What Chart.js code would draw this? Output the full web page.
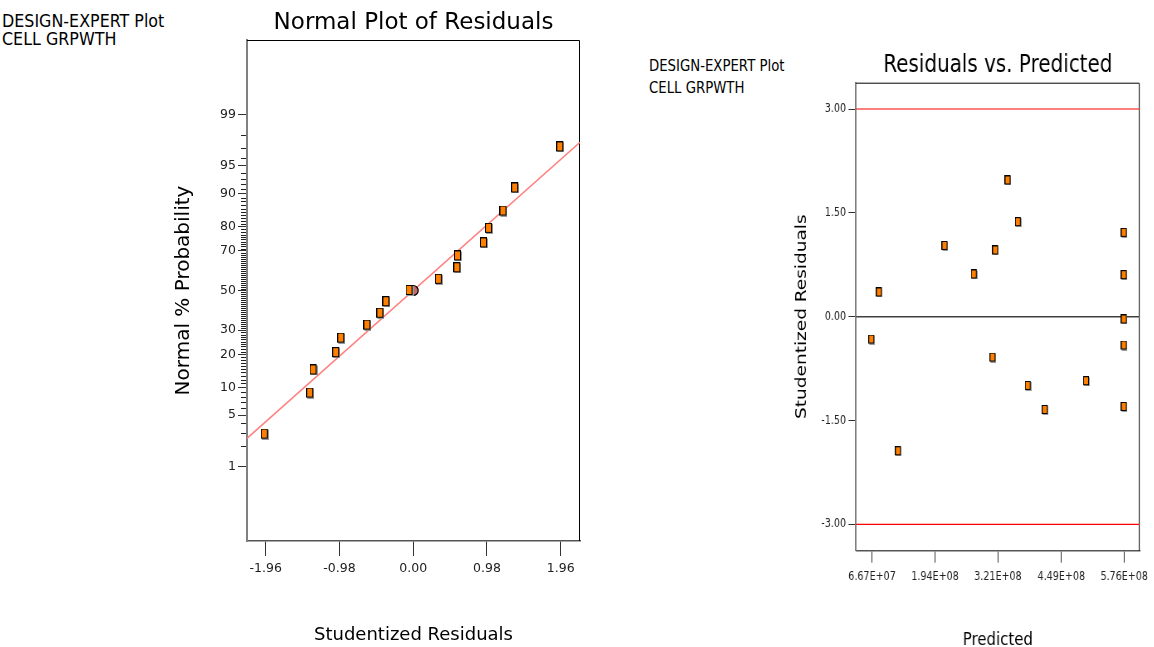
<!DOCTYPE html>
<html>
<head>
<meta charset="utf-8">
<script src="https://cdn.jsdelivr.net/npm/chart.js@4.4.1/dist/chart.umd.min.js"></script>
<style>
  body { margin: 0; width: 1154px; height: 647px; overflow: hidden; background: #fff; }
  canvas { position: absolute; top: 0; }
  #left { left: 0; }
  #right { left: 620px; transform: scaleX(0.83); transform-origin: 0 0; }
  .hdr { position: absolute; font-family: 'DejaVu Sans'; color: #000; white-space: nowrap; transform-origin: 0 0; }
  #hdrLeft { left: 1.5px; top: 11.6px; font-size: 17.4px; line-height: 18.7px; transform: scaleX(0.915); }
  #hdrRight { left: 649px; top: 55.3px; font-size: 16px; line-height: 21.7px; transform: scaleX(0.83); }
</style>
</head>
<body>
<div class="hdr" id="hdrLeft">DESIGN-EXPERT Plot<br>CELL GRPWTH</div>
<div class="hdr" id="hdrRight">DESIGN-EXPERT Plot<br>CELL GRPWTH</div>
<canvas id="left" width="610" height="660"></canvas>
<canvas id="right" width="644" height="660"></canvas>
<script>
// normal plot data (studentized residuals and their normal % probability)
const residX = [-1.973, -1.369, -1.325, -1.023, -0.956, -0.609, -0.436, -0.356, -0.049, 0.341, 0.587, 0.595, 0.941, 1.008, 1.20, 1.355, 1.955];
const normPct = [2.9, 8.8, 14.7, 20.6, 26.5, 32.4, 38.2, 44.1, 50.0, 55.9, 61.8, 67.6, 73.5, 79.4, 85.3, 91.2, 97.1];
// reference line and its centre marker
const fitX = [-2.209, 2.217];
const fitPct = [2.55, 97.48];
const centreX = [0];
const centrePct = [50];
// left axes
const xTicks = [-1.96, -0.98, 0, 0.98, 1.96];
const xTickLabels = ['-1.96', '-0.98', '0.00', '0.98', '1.96'];
const yTickPct = [1, 5, 10, 20, 30, 50, 70, 80, 90, 95, 99];
const yTickLabels = ['1', '5', '10', '20', '30', '50', '70', '80', '90', '95', '99'];

// residuals vs predicted data
const predicted = [6.60e7, 8.14e7, 1.198e8, 2.139e8, 2.730e8, 3.108e8, 3.162e8, 3.413e8, 3.620e8, 3.819e8, 4.163e8, 4.998e8, 5.76e8, 5.76e8, 5.76e8, 5.76e8, 5.76e8];
const studResid = [-0.33, 0.35, -1.944, 1.023, 0.61, -0.59, 0.957, 1.968, 1.366, -1.0, -1.347, -0.932, 1.211, 0.6, -0.04, -0.416, -1.303];
const limits = [3, -3];
const zeroLine = [0];
const rxRange = [3.427e7, 6.073e8];
const rxTicks = [6.67e7, 1.94e8, 3.21e8, 4.49e8, 5.76e8];
const rxTickLabels = ['6.67E+07', '1.94E+08', '3.21E+08', '4.49E+08', '5.76E+08'];
const ryTicks = [-3, -1.5, 0, 1.5, 3];
const ryTickLabels = ['-3.00', '-1.50', '0.00', '1.50', '3.00'];

Chart.defaults.font.family = 'DejaVu Sans';

// inverse normal cdf (Acklam) used to place the probability axis
function probit(p) {
  const a = [-3.969683028665376e+01, 2.209460984245205e+02, -2.759285104469687e+02, 1.383577518672690e+02, -3.066479806614716e+01, 2.506628277459239e+00];
  const b = [-5.447609879822406e+01, 1.615858368580409e+02, -1.556989798598866e+02, 6.680131188771972e+01, -1.328068155288572e+01];
  const c = [-7.784894002430293e-03, -3.223964580411365e-01, -2.400758277161838e+00, -2.549732539343734e+00, 4.374664141464968e+00, 2.938163982698783e+00];
  const d = [7.784695709041462e-03, 3.224671290700398e-01, 2.445134137142996e+00, 3.754408661907416e+00];
  const pl = 0.02425;
  let q, r;
  if (p < pl) {
    q = Math.sqrt(-2 * Math.log(p));
    return (((((c[0]*q+c[1])*q+c[2])*q+c[3])*q+c[4])*q+c[5]) / ((((d[0]*q+d[1])*q+d[2])*q+d[3])*q+1);
  }
  if (p > 1 - pl) {
    q = Math.sqrt(-2 * Math.log(1 - p));
    return -(((((c[0]*q+c[1])*q+c[2])*q+c[3])*q+c[4])*q+c[5]) / ((((d[0]*q+d[1])*q+d[2])*q+d[3])*q+1);
  }
  q = p - 0.5; r = q * q;
  return (((((a[0]*r+a[1])*r+a[2])*r+a[3])*r+a[4])*r+a[5])*q / (((((b[0]*r+b[1])*r+b[2])*r+b[3])*r+b[4])*r+1);
}

// small orange box marker
function makeMarker(w, h) {
  const c = document.createElement('canvas');
  c.width = w + 1; c.height = h + 1;
  const g = c.getContext('2d');
  g.fillStyle = '#9a9a9a';
  g.fillRect(1, 1, w, h);
  g.fillStyle = '#000';
  g.fillRect(0, 0, w, h);
  g.fillStyle = '#ff8000';
  g.fillRect(1, 1, w - 2, h - 2);
  return c;
}

// minor percent ticks on the probability axis
const minorPct = [];
for (let i = 1; i < 100; i++) if (!yTickPct.includes(i)) minorPct.push(i);

const minorTicks = {
  id: 'minorTicks',
  afterDraw(chart) {
    const ctx = chart.ctx, y = chart.scales.y, left = chart.chartArea.left;
    ctx.save();
    ctx.strokeStyle = '#222';
    ctx.lineWidth = 1;
    minorPct.forEach(p => {
      const py = Math.round(y.getPixelForValue(probit(p / 100))) + 0.5;
      ctx.beginPath();
      ctx.moveTo(left - 6, py);
      ctx.lineTo(left - 1, py);
      ctx.stroke();
    });
    ctx.restore();
  }
};

// top and right edges of the plot box
const frame = {
  id: 'frame',
  beforeDatasetsDraw(chart) {
    const { ctx, chartArea: a } = chart;
    ctx.save();
    ctx.strokeStyle = '#000';
    ctx.lineWidth = 1;
    ctx.beginPath();
    ctx.moveTo(a.left, a.top + 0.5);
    ctx.lineTo(a.right - 0.5, a.top + 0.5);
    ctx.lineTo(a.right - 0.5, a.bottom);
    ctx.stroke();
    ctx.restore();
  }
};

const leftChart = new Chart(document.getElementById('left').getContext('2d'), {
  type: 'scatter',
  data: {
    datasets: [{
      data: residX.map((v, i) => ({ x: v, y: probit(normPct[i] / 100) })),
      pointStyle: makeMarker(7, 10)
    }, {
      data: centreX.map((v, i) => ({ x: v, y: probit(centrePct[i] / 100) })),
      pointStyle: 'circle',
      pointRadius: 5,
      backgroundColor: '#c46a6a',
      borderColor: '#000',
      borderWidth: 1.2
    }, {
      data: fitX.map((v, i) => ({ x: v, y: probit(fitPct[i] / 100) })),
      showLine: true,
      pointRadius: 0,
      borderColor: '#ff8080',
      borderWidth: 1.5
    }]
  },
  options: {
    responsive: false,
    animation: false,
    layout: { padding: { left: 0, right: 30, top: 0, bottom: 0 } },
    plugins: {
      legend: { display: false },
      tooltip: { enabled: false },
      title: {
        display: true,
        text: 'Normal Plot of Residuals',
        fullSize: false,
        color: '#000',
        font: { size: 23, weight: 'normal' },
        padding: { top: 9.5, bottom: 2.9 }
      }
    },
    scales: {
      x: {
        type: 'linear',
        min: -2.209,
        max: 2.217,
        afterBuildTicks: s => { s.ticks = xTicks.map(v => ({ value: v })); },
        afterFit: s => { s.height = 119; },
        ticks: { autoSkip: false, maxRotation: 0, padding: 5, color: '#222', font: { size: 12.5 }, callback: (v, i) => xTickLabels[i] },
        grid: { drawOnChartArea: false, tickLength: 15, tickColor: '#333' },
        border: { color: '#555', width: 1.5 },
        title: { display: true, text: 'Studentized Residuals', color: '#000', font: { size: 18 }, padding: { top: 0, bottom: 14 } }
      },
      y: {
        type: 'linear',
        min: -3.307,
        max: 3.307,
        afterBuildTicks: s => { s.ticks = yTickPct.map(p => ({ value: probit(p / 100) })); },
        afterFit: s => { s.width = 247; },
        ticks: { autoSkip: false, padding: 2, color: '#222', font: { size: 12.5 }, callback: (v, i) => yTickLabels[i] },
        grid: { drawOnChartArea: false, tickLength: 9, tickColor: '#333' },
        border: { color: '#808080', width: 2 },
        title: { display: true, text: 'Normal % Probability', color: '#000', font: { size: 20 }, padding: { top: 172, bottom: 0 } }
      }
    }
  },
  plugins: [minorTicks, frame]
});

// horizontal reference lines across the predicted range
const hLine = (v, color, width) => ({
  data: rxRange.map(x => ({ x: x, y: v })),
  showLine: true,
  pointRadius: 0,
  borderColor: color,
  borderWidth: width
});

const rightChart = new Chart(document.getElementById('right').getContext('2d'), {
  type: 'scatter',
  data: {
    datasets: [{
      data: predicted.map((v, i) => ({ x: v, y: studResid[i] })),
      pointStyle: makeMarker(7, 9)
    }]
      .concat(zeroLine.map(v => hLine(v, '#404040', 1.5)))
      .concat(limits.map(v => hLine(v, '#ff0000', 1.2)))
  },
  options: {
    responsive: false,
    animation: false,
    layout: { padding: { left: 0, right: 12.7, top: 0, bottom: 0 } },
    plugins: {
      legend: { display: false },
      tooltip: { enabled: false },
      title: {
        display: true,
        text: 'Residuals vs. Predicted',
        fullSize: false,
        color: '#000',
        font: { size: 24, weight: 'normal' },
        padding: { top: 51.4, bottom: 2.5 }
      }
    },
    scales: {
      x: {
        type: 'linear',
        min: rxRange[0],
        max: rxRange[1],
        afterBuildTicks: s => { s.ticks = rxTicks.map(v => ({ value: v })); },
        afterFit: s => { s.height = 109.3; },
        ticks: { autoSkip: false, maxRotation: 0, padding: 7, color: '#222', font: { size: 11.5 }, callback: (v, i) => rxTickLabels[i] },
        grid: { drawOnChartArea: false, tickLength: 12, tickColor: '#333' },
        border: { color: '#555', width: 1.5 },
        title: { display: true, text: 'Predicted', color: '#000', font: { size: 18 }, padding: { top: 0, bottom: 9.2 } }
      },
      y: {
        type: 'linear',
        min: -3.38,
        max: 3.38,
        afterBuildTicks: s => { s.ticks = ryTicks.map(v => ({ value: v })); },
        afterFit: s => { s.width = 284.3; },
        ticks: { autoSkip: false, padding: 3, color: '#222', font: { size: 11.5 }, callback: (v, i) => ryTickLabels[i] },
        grid: { drawOnChartArea: false, tickLength: 9, tickColor: '#333' },
        border: { color: '#808080', width: 2 },
        title: { display: true, text: 'Studentized Residuals', color: '#000', font: { size: 18.5 }, padding: { top: 208.2, bottom: 0 } }
      }
    }
  },
  plugins: [frame]
});
</script>
</body>
</html>
